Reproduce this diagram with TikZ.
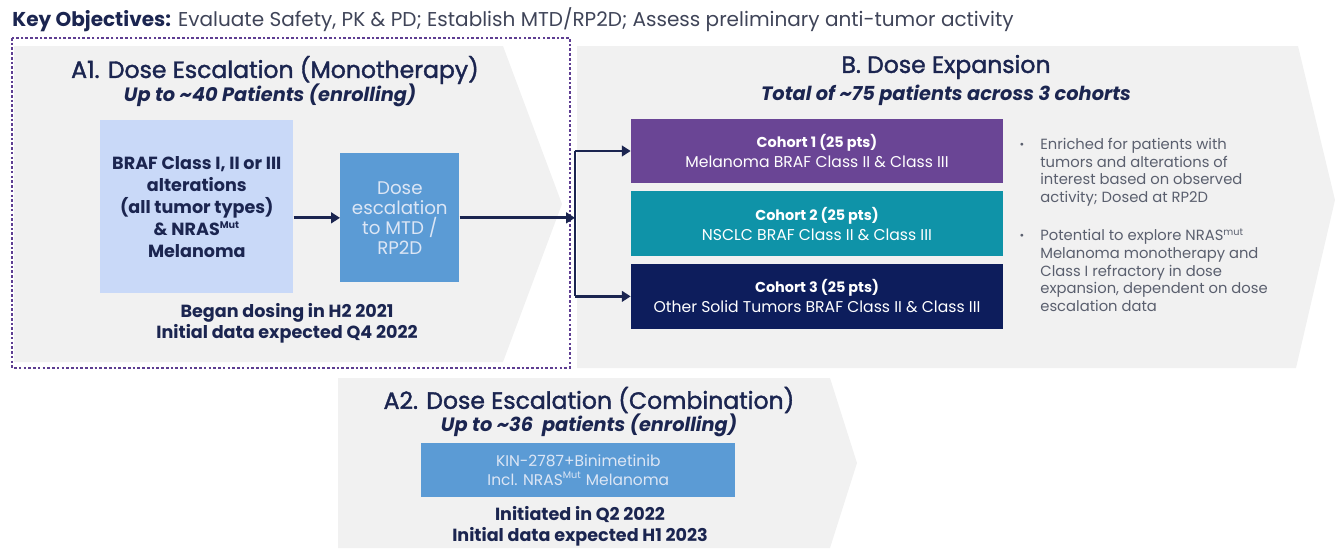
\documentclass[tikz,border=0pt]{standalone}
\usepackage{fontspec}
\setmainfont{Poppins}
\usetikzlibrary{positioning,arrows.meta}
\definecolor{navy}{HTML}{1B2550}
\definecolor{txtgrey}{HTML}{3F4458}
\definecolor{bulletgrey}{HTML}{5A5F6E}
\definecolor{panelgrey}{HTML}{F1F1F1}
\definecolor{lightblue}{HTML}{C9D9F8}
\definecolor{midblue}{HTML}{5B9BD5}
\definecolor{paleblue}{HTML}{DCE6F5}
\definecolor{cohortone}{HTML}{6A4595}
\definecolor{cohorttwo}{HTML}{0F93A8}
\definecolor{cohortthree}{HTML}{0D1D5C}
\definecolor{dotpurple}{HTML}{5E3E92}

\tikzset{
  hdr/.style={text=navy,font=\fontsize{13.4}{15}\selectfont\addfontfeature{FakeBold=1.6}},
  subhdr/.style={text=navy,font=\fontsize{11}{13}\selectfont\bfseries\itshape},
  block/.style={inner sep=0pt,anchor=north west,align=center},
  note/.style={text=navy,align=center,font=\fontsize{10}{12}\selectfont\bfseries},
  cohort/.style={inner sep=0pt,align=center,text=white,minimum width=7.44cm,minimum height=1.3cm,
    font=\fontsize{8.9}{11.5}\selectfont},
  bullettext/.style={anchor=north west,inner sep=0pt,align=left,text=bulletgrey,
    font=\fontsize{8.4}{10}\selectfont},
  panel/.style={fill=panelgrey},
  flow/.style={->,draw=navy,line width=1.6pt},
  link/.style={draw=navy,line width=1.6pt}
}
\newcommand{\cohorthead}[1]{{\fontsize{8.2}{11.5}\selectfont\bfseries #1}}
\newcommand{\smallsup}[1]{\textsuperscript{\fontsize{5.5}{6}\selectfont #1}}

\begin{document}
\begin{tikzpicture}[x=0.02cm,y=-0.02cm,>={Triangle[length=5pt,width=6pt]}]
	\useasboundingbox (0,0) rectangle (1335,548);
	% grey chevrons behind everything
	\fill[panel] (14,46) -- (503,46) -- (562,204) -- (503,362) -- (14,362) -- cycle;
	\fill[panel] (577,46) -- (1298,46) -- (1335,200) -- (1296,368) -- (577,368) -- cycle;
	\fill[panel] (338,378) -- (830,378) -- (857,463) -- (830,548) -- (338,548) -- cycle;
	\draw[dotpurple,line width=1.5pt,dash pattern=on 1.5pt off 1.2pt] (12,38) rectangle (570,368);
	% objectives line
	\node[anchor=west,inner sep=0pt,text=txtgrey,font=\fontsize{11.4}{13}\selectfont] (keyobj) at (12,20)
		{\textbf{\color{navy}Key Objectives:} Evaluate Safety, PK \& PD; Establish MTD/RP2D; Assess preliminary anti-tumor activity};
	% A1 monotherapy
	\node[hdr] (atitle) at (275,70) {A1. Dose Escalation (Monotherapy)};
	\node[subhdr] (asub) at (270,95) {Up to \textasciitilde40 Patients (enrolling)};
	\node[block,note,fill=lightblue,minimum width=3.86cm,minimum height=3.46cm,
		font=\fontsize{10}{12.5}\selectfont\bfseries] (braf) at (100,120)
		{BRAF Class I, II or III\\alterations\\(all tumor types)\\\& NRAS\smallsup{Mut}\\Melanoma};
	\node[block,fill=midblue,text=paleblue,minimum width=2.38cm,minimum height=2.58cm,
		font=\fontsize{10.4}{11.4}\selectfont] (dose) at (340,153) {Dose\\escalation\\to MTD /\\RP2D};
	\node[note] (awhen) at (287,323) {Began dosing in H2 2021\\Initial data expected Q4 2022};
	% B expansion
	\node[hdr] (btitle) at (946,67) {B. Dose Expansion};
	\node[subhdr] (bsub) at (946,95) {Total of \textasciitilde75 patients across 3 cohorts};
	\node[cohort,fill=cohortone] (cone) at (817,151) {\cohorthead{Cohort 1 (25 pts)}\\Melanoma BRAF Class II \& Class III};
	\node[cohort,fill=cohorttwo,below=0.14cm of cone] (ctwo) {\cohorthead{Cohort 2 (25 pts)}\\NSCLC BRAF Class II \& Class III};
	\node[cohort,fill=cohortthree,below=0.14cm of ctwo] (cthree) {\cohorthead{Cohort 3 (25 pts)}\\Other Solid Tumors BRAF Class II \& Class III};
	\node[text=bulletgrey,font=\fontsize{6.5}{10}\selectfont] (dotone) at (1022,146) {\textbullet};
	\node[bullettext] (noteone) at (1040,138) {Enriched for patients with\\tumors and alterations of\\interest based on observed\\activity; Dosed at RP2D};
	\node[text=bulletgrey,font=\fontsize{6.5}{10}\selectfont] (dottwo) at (1022,237) {\textbullet};
	\node[bullettext] (notetwo) at (1040,229) {Potential to explore NRAS\smallsup{mut}\\Melanoma monotherapy and\\Class I refractory in dose\\expansion, dependent on dose\\escalation data};
	% A2 combination
	\node[hdr] (ctitle) at (589,400) {A2. Dose Escalation (Combination)};
	\node[subhdr] (csub) at (589,425) {Up to \textasciitilde36\ \ patients (enrolling)};
	\node[block,fill=midblue,text=paleblue,minimum width=6.28cm,minimum height=1.08cm,
		font=\fontsize{8.8}{10.8}\selectfont] (combo) at (421,443) {KIN-2787+Binimetinib\\Incl. NRAS\smallsup{Mut} Melanoma};
	\node[note] (cwhen) at (580,526) {Initiated in Q2 2022\\Initial data expected H1 2023};
	% connectors
	\coordinate (split) at (575,222);
	\draw[flow] (braf.east |- dose.west) -- (dose.west);
	\draw[flow] (dose.east) -- (dose.east -| split);
	\draw[link] (cone.west -| split) -- (cthree.west -| split);
	\draw[flow] (cone.west -| split) -- (cone.west);
	\draw[flow] (cthree.west -| split) -- (cthree.west);
\end{tikzpicture}
\end{document}
